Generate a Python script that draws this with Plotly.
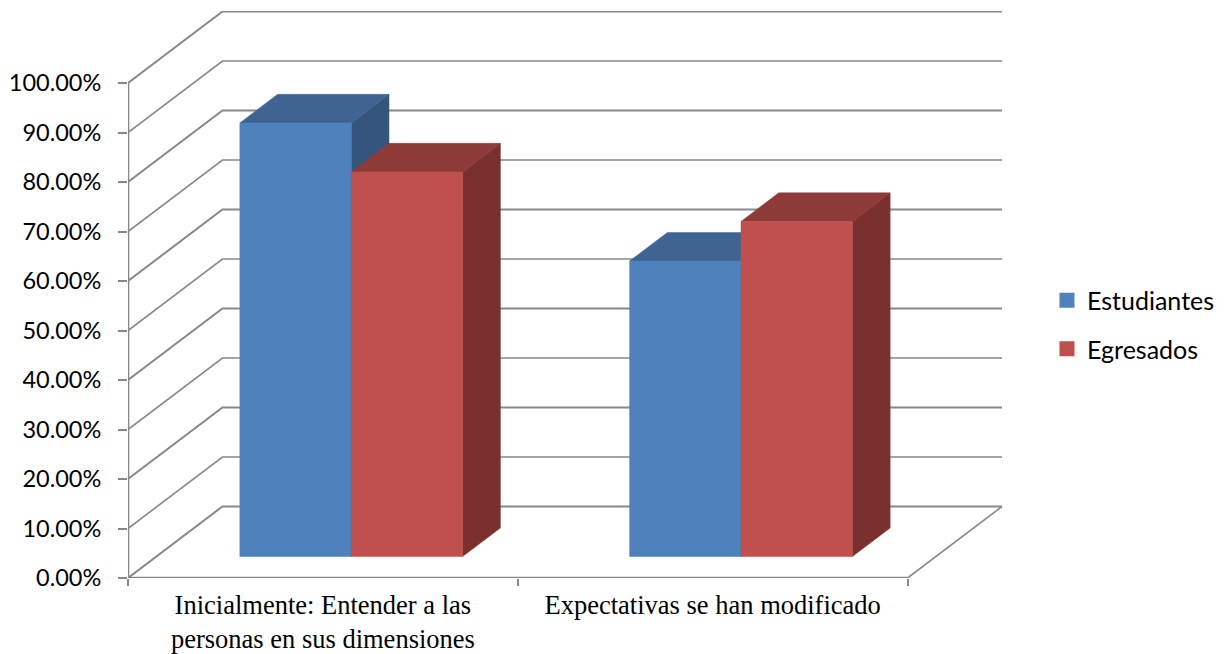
import plotly.graph_objects as go

categories = ["Inicialmente: Entender a las<br>personas en sus dimensiones", "Expectativas se han modificado"]
estudiantes = [87.6, 59.7]
egresados = [77.7, 67.7]
y_ticks = [0, 10, 20, 30, 40, 50, 60, 70, 80, 90, 100]
y_labels = [f"{t:.2f}%" for t in y_ticks]

# chart geometry in axis units (1 x unit = one category, y in percent)
W, H = 1224, 654
L, R, T, B = 127.5, 1003, 11, 578
UNIT_X = 390.0
UNIT_Y = 4.95
X_MAX = (R - L) / UNIT_X
Y_MAX = (B - T) / UNIT_Y
DX = (222 - L) / UNIT_X      # depth of the floor
DY = (578 - 506.5) / UNIT_Y
FRONT, BACK = 0.3, 0.7       # depth position of the bars
GAP = 1.5
BAR_W = 1 / (2 + GAP)
GRID = "#888888"

fig = go.Figure()


def line(xs, ys, width=1.5):
    fig.add_trace(go.Scatter(x=xs, y=ys, mode="lines", line=dict(color=GRID, width=width),
                             showlegend=False, hoverinfo="skip", cliponaxis=False))


def poly(xs, ys, color):
    fig.add_trace(go.Scatter(x=xs + xs[:1], y=ys + ys[:1], mode="lines", fill="toself", fillcolor=color,
                             line=dict(color=color, width=0.5), showlegend=False,
                             hoverinfo="skip"))


# walls and floor
for t in y_ticks:
    line([0, DX, 2 + DX], [t, t + DY, t + DY], width=2 if t % 20 == 0 else 1.6)
line([2, 2 + DX], [0, DY], width=1.6)
line([0, 0], [0, 100], width=2.6)
line([0, 2], [0, 0], width=2.6)

series = [
    ("Estudiantes", estudiantes, "#4F81BD", "#3F6492", "#34557C", 0),
    ("Egresados", egresados, "#C0504D", "#8E3A38", "#7A302F", 1),
]

for c in range(len(categories)):
    for name, values, front, top, side, s in series:
        v = values[c]
        x0 = c + (1 - 2 * BAR_W) / 2 + s * BAR_W + FRONT * DX
        x1 = x0 + BAR_W
        b0 = FRONT * DY
        d_x = (BACK - FRONT) * DX
        d_y = (BACK - FRONT) * DY
        poly([x1, x1 + d_x, x1 + d_x, x1], [b0, b0 + d_y, b0 + v + d_y, b0 + v], side)
        poly([x0, x1, x1 + d_x, x0 + d_x], [b0 + v, b0 + v, b0 + v + d_y, b0 + v + d_y], top)
        poly([x0, x1, x1, x0], [b0, b0, b0 + v, b0 + v], front)

for name, values, front, top, side, s in series:
    fig.add_trace(go.Scatter(x=[None], y=[None], mode="markers", name=name, legendgroup=name,
                             marker=dict(symbol="square", size=15, color=front)))

fig.update_layout(
    width=W,
    height=H,
    margin=dict(l=L, r=W - R, t=T, b=H - B, pad=0, autoexpand=False),
    paper_bgcolor="white",
    plot_bgcolor="white",
    xaxis=dict(
        range=[0, X_MAX], showgrid=False, zeroline=False, showline=False, automargin=False,
        tickmode="array", tickvals=[0.5, 1.5], ticktext=categories, ticks="",
        tickfont=dict(family="Liberation Serif", size=26.5, color="#000000"),
        ticklabelstandoff=8,
        minor=dict(tickmode="array", tickvals=[0, 1, 2], ticks="outside", ticklen=7, tickwidth=1.5,
                   tickcolor=GRID, showgrid=False),
    ),
    yaxis=dict(
        range=[0, Y_MAX], showgrid=False, zeroline=False, showline=False, automargin=False,
        tickmode="array", tickvals=y_ticks, ticktext=y_labels,
        ticks="outside", ticklen=9, tickwidth=2, tickcolor=GRID,
        tickfont=dict(family="Lato", size=23.5, color="#000000"),
        ticklabelstandoff=12,
    ),
    legend=dict(x=(1047 - L) / (R - L), xref="paper", y=(B - 277.5) / (B - T), yref="paper", xanchor="left", yanchor="top",
                font=dict(family="Lato", size=25, color="#000000"), tracegroupgap=13,
                bgcolor="rgba(0,0,0,0)", itemclick=False, itemdoubleclick=False),
    hovermode=False,
)
fig.write_html("out.html", config=dict(displayModeBar=False),
               post_script="document.body.style.margin='0';document.documentElement.style.overflow='hidden';")
